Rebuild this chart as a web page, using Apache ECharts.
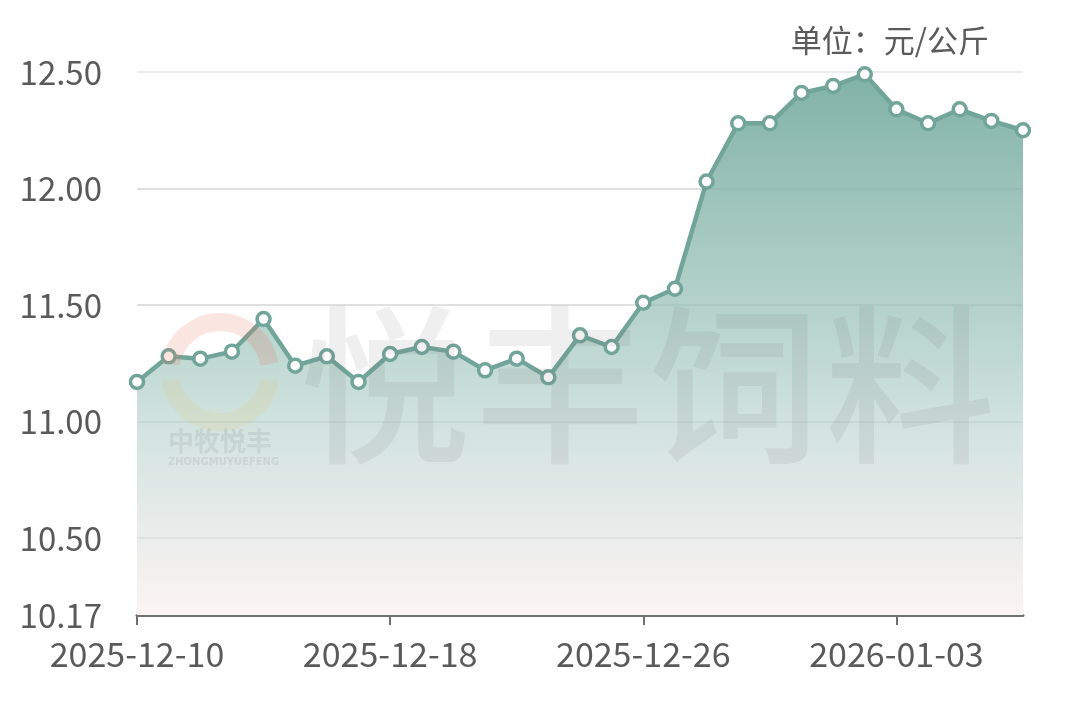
<!DOCTYPE html>
<html>
<head>
<meta charset="utf-8">
<script src="https://cdn.jsdelivr.net/npm/echarts@6/dist/echarts.min.js"></script>
<style>
html,body{margin:0;padding:0;background:#fff;}
#chart{width:1080px;height:724px;}
</style>
</head>
<body>
<div id="chart"></div>
<script>
const dates = ['2025-12-10','2025-12-11','2025-12-12','2025-12-13','2025-12-14','2025-12-15','2025-12-16','2025-12-17','2025-12-18','2025-12-19','2025-12-20','2025-12-21','2025-12-22','2025-12-23','2025-12-24','2025-12-25','2025-12-26','2025-12-27','2025-12-28','2025-12-29','2025-12-30','2025-12-31','2026-01-01','2026-01-02','2026-01-03','2026-01-04','2026-01-05','2026-01-06','2026-01-07'];
const prices = [11.17,11.28,11.27,11.30,11.44,11.24,11.28,11.17,11.29,11.32,11.30,11.22,11.27,11.19,11.37,11.32,11.51,11.57,12.03,12.28,12.28,12.41,12.44,12.49,12.34,12.28,12.34,12.29,12.25];
const yTicks = [10.17,10.5,11,11.5,12,12.5];
const gridValues = [10.5,11,11.5,12];
const yMin = 10.17, yMax = 12.5;
const unitText = '单位：元/公斤';
const watermarkChars = ['悦','丰','饲','料'];
const logoName = '中牧悦丰';
const logoSub = 'ZHONGMUYUEFENG';

const chart = echarts.init(document.getElementById('chart'));
const cjk = '"Noto Sans CJK SC", "Noto Sans", sans-serif';
const lineColor = '#72a59a';

const graphics = [];
const wmX = [300, 475, 650, 825];
watermarkChars.forEach((c, i) => {
  graphics.push({
    type: 'text', left: wmX[i], top: 300, z: 10,
    style: { text: c, font: '500 170px ' + cjk, fill: 'rgba(110,110,110,0.11)' }
  });
});
graphics.push({
  type: 'arc', shape: { cx: 220, cy: 372, r: 50, startAngle: Math.PI * 1.05, endAngle: Math.PI * 1.95 },
  style: { stroke: 'rgba(235,110,90,0.18)', lineWidth: 18, fill: null }, z: 10
});
graphics.push({
  type: 'arc', shape: { cx: 220, cy: 372, r: 50, startAngle: Math.PI * 0.05, endAngle: Math.PI * 0.95 },
  style: { stroke: 'rgba(235,190,90,0.14)', lineWidth: 18, fill: null }, z: 10
});
graphics.push({
  type: 'text', left: 168, top: 428, z: 10,
  style: { text: logoName, font: 'bold 26px ' + cjk, fill: 'rgba(120,120,120,0.15)' }
});
graphics.push({
  type: 'text', left: 168, top: 457, z: 10,
  style: { text: logoSub, font: 'bold 10px "DejaVu Sans", sans-serif', fill: 'rgba(120,120,120,0.15)' }
});

chart.setOption({
  backgroundColor: '#ffffff',
  animation: false,
  title: {
    text: unitText, right: 86, top: 20,
    textStyle: { fontFamily: cjk, fontSize: 31, fontWeight: 'normal', color: '#5a5a5a' }
  },
  grid: { left: 137, right: 57, top: 72, bottom: 109, containLabel: false },
  xAxis: {
    type: 'category', data: dates, boundaryGap: false,
    axisLine: { lineStyle: { color: '#707070', width: 3 } },
    axisTick: { show: true, interval: 7, length: 10, lineStyle: { color: '#707070', width: 2 } },
    axisLabel: { interval: 7, margin: 22, fontFamily: cjk, fontSize: 34, color: '#5a5a5a' },
    splitLine: { show: false }
  },
  yAxis: {
    type: 'value', min: yMin, max: yMax,
    axisLine: { show: false }, axisTick: { show: false },
    axisLabel: {
      customValues: yTicks, margin: 35, fontFamily: cjk, fontSize: 33, color: '#5a5a5a',
      formatter: v => v.toFixed(2)
    },
    splitLine: { show: true, lineStyle: { color: '#ececec', width: 2 } }
  },
  graphic: graphics,
  series: [{
    type: 'line', data: prices, z: 3,
    symbol: 'circle', symbolSize: 13, showSymbol: true,
    itemStyle: { color: '#ffffff', borderColor: lineColor, borderWidth: 3.5 },
    lineStyle: { color: lineColor, width: 4.5 },
    areaStyle: {
      opacity: 1,
      color: new echarts.graphic.LinearGradient(0, 0, 0, 1, [
        { offset: 0, color: 'rgba(128,178,168,1)' },
        { offset: 0.22, color: 'rgba(156,195,187,1)' },
        { offset: 0.45, color: 'rgba(182,211,204,1)' },
        { offset: 0.65, color: 'rgba(210,227,223,1)' },
        { offset: 0.86, color: 'rgba(235,237,236,1)' },
        { offset: 1, color: 'rgba(251,244,242,1)' }
      ])
    },
    markLine: {
      silent: true, symbol: 'none', label: { show: false }, animation: false,
      lineStyle: { color: 'rgba(60,90,85,0.07)', width: 2, type: 'solid' },
      data: gridValues.map(v => ({ yAxis: v }))
    }
  }]
});
</script>
</body>
</html>
